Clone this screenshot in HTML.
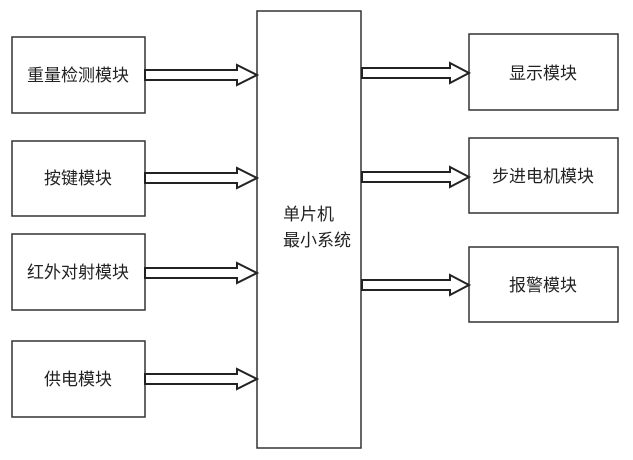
<!DOCTYPE html>
<html><head><meta charset="utf-8"><style>
body{margin:0;background:#fff;}
svg text{font-family:"Liberation Sans","Noto Sans CJK SC",sans-serif;font-size:17px;fill:#222;}
</style></head><body>
<svg width="633" height="455" viewBox="0 0 633 455" xmlns="http://www.w3.org/2000/svg">
<g fill="none" stroke="#333" stroke-width="1.5">
<rect x="12" y="37" width="133" height="76"/>
<rect x="12" y="141" width="133" height="75"/>
<rect x="12" y="234" width="133" height="76"/>
<rect x="12" y="341" width="133" height="76"/>
<rect x="257" y="11" width="104" height="437"/>
<rect x="469" y="34" width="149" height="76"/>
<rect x="469" y="138" width="149" height="75"/>
<rect x="469" y="247" width="149" height="75"/>
</g>
<g fill="#fff" stroke="#222" stroke-width="2">
<path d="M145 70H237V65L257 75L237 85V80H145Z"/>
<path d="M145 173H237V168L257 178L237 188V183H145Z"/>
<path d="M145 268H237V263L257 273L237 283V278H145Z"/>
<path d="M145 374H237V369L257 379L237 389V384H145Z"/>
<path d="M362 68H450V63L469 73L450 83V78H362Z"/>
<path d="M362 172H450V167L469 177L450 187V182H362Z"/>
<path d="M362 280H450V275L469 285L450 295V290H362Z"/>
</g>
<text x="78" y="81" text-anchor="middle">重量检测模块</text>
<text x="78" y="184" text-anchor="middle">按键模块</text>
<text x="78" y="278" text-anchor="middle">红外对射模块</text>
<text x="78" y="385" text-anchor="middle">供电模块</text>
<text x="283" y="220">单片机</text>
<text x="283" y="246">最小系统</text>
<text x="543" y="79" text-anchor="middle">显示模块</text>
<text x="543" y="182" text-anchor="middle">步进电机模块</text>
<text x="543" y="291" text-anchor="middle">报警模块</text>
</svg>
</body></html>
